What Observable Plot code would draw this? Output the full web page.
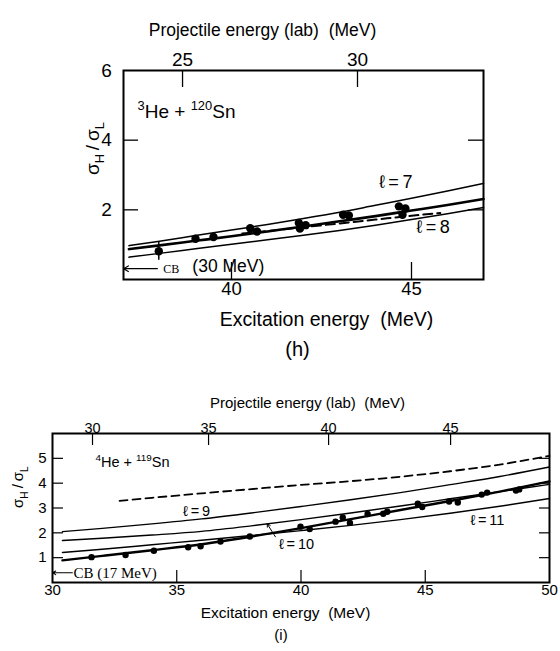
<!DOCTYPE html>
<html><head><meta charset="utf-8">
<script src="https://cdn.jsdelivr.net/npm/d3@7"></script>
<script src="https://cdn.jsdelivr.net/npm/@observablehq/plot@0.6"></script>
<style>
html,body{margin:0;padding:0;background:#fff;}
#wrap{position:relative;width:560px;height:651px;overflow:hidden;background:#fff;}
#wrap svg{position:absolute;left:0;}
</style></head><body><div id="wrap"></div>
<script>
// ================= Panel (h): 3He + 120Sn =================
const hCurveExc = [37.15, 38, 39, 40, 41, 42, 43, 44, 45, 46, 47];
const hL7      = [0.97, 1.10, 1.26, 1.42, 1.58, 1.75, 1.93, 2.13, 2.33, 2.54, 2.76];
const hFit     = [0.87, 0.98, 1.11, 1.24, 1.38, 1.52, 1.67, 1.82, 1.98, 2.14, 2.31];
const hL8      = [0.64, 0.75, 0.88, 1.01, 1.14, 1.27, 1.41, 1.56, 1.72, 1.89, 2.07];
const hDashExc = [40.3, 41, 42, 43, 44, 45, 45.8];
const hDash    = [1.32, 1.39, 1.50, 1.61, 1.72, 1.83, 1.91];
const hPtExc   = [37.98, 39.00, 39.50, 40.52, 40.71, 41.87, 41.90, 42.06, 43.10, 43.26, 44.65, 44.83, 44.75];
const hPtRatio = [0.81, 1.17, 1.22, 1.47, 1.38, 1.62, 1.46, 1.56, 1.86, 1.84, 2.10, 2.04, 1.86];
const hPtErr   = [0.26, 0, 0, 0, 0, 0.08, 0, 0, 0, 0, 0, 0, 0.12];
const hExcTicks = [40, 45];
const hYTickLabels = [2, 4, 6];
const hYTicks = [2, 4];
const hProjTicks = [25, 30];
const hProjTickExc = [38.64, 43.5];
const hCB = {exc: 37.94, ratio: 0.31, energy: "(30\u00a0MeV)"};

// ================= Panel (i): 4He + 119Sn =================
const iCurveExc = [30.4, 32, 34, 36, 38, 40, 42, 44, 46, 48, 50];
const iL9   = [2.05, 2.18, 2.36, 2.56, 2.80, 3.06, 3.33, 3.62, 3.94, 4.27, 4.65];
const iL10  = [1.69, 1.78, 1.91, 2.06, 2.28, 2.53, 2.80, 3.08, 3.37, 3.66, 3.95];
const iL11  = [1.21, 1.34, 1.52, 1.70, 1.89, 2.09, 2.30, 2.53, 2.79, 3.07, 3.38];
const iFit  = [0.89, 1.07, 1.30, 1.54, 1.85, 2.19, 2.55, 2.92, 3.28, 3.66, 4.07];
const iDashExc = [32.7, 34, 36, 38, 40, 42, 44, 46, 48, 50];
const iDash    = [3.29, 3.41, 3.59, 3.76, 3.93, 4.08, 4.26, 4.48, 4.75, 5.10];
const iPtExc   = [31.57, 32.94, 34.08, 35.46, 35.96, 36.76, 37.94, 39.98, 40.35, 41.39, 41.68, 41.97, 42.68, 43.31, 43.47, 44.70, 44.88, 45.96, 46.31, 47.27, 47.49, 48.65, 48.78];
const iPtRatio = [1.02, 1.11, 1.28, 1.42, 1.46, 1.65, 1.85, 2.25, 2.15, 2.45, 2.62, 2.40, 2.76, 2.77, 2.85, 3.17, 3.04, 3.26, 3.22, 3.54, 3.62, 3.70, 3.75];
const iExcTicks = [35, 40, 45];
const iExcTickLabels = [30, 35, 40, 45, 50];
const iYTicks = [1, 2, 3, 4, 5];
const iProjTicks = [30, 35, 40, 45];
const iProjTickExc = [31.61, 36.28, 41.11, 46.02];
const iCB = {exc: 30.8, ratio: 0.39, label: "CB (17\u00a0MeV)"};
const iL10Arrow = {x1: 38.97, y1: 1.84, x2: 38.64, y2: 2.36};

// ================= helpers =================
const FONT = "'Liberation Sans', Arial, sans-serif";
const SERIF = "'Liberation Serif', 'Times New Roman', serif";
const W = 560;
const tbl = (xs, ys) => xs.map((x, i) => ({x, y: ys[i]}));

function richText(svg) {
  d3.select(svg).selectAll("text").each(function () {
    const s = this.textContent;
    if (!/[\^_]\{/.test(s)) return;
    const g = this.parentNode;
    const fs = +(this.getAttribute("font-size") || (g && g.getAttribute("font-size")) || 12);
    const parts = s.split(/([\^_]\{[^}]*\})/);
    const sel = d3.select(this);
    sel.text(null);
    let off = 0;
    for (const p of parts) {
      if (!p) continue;
      const m = p.match(/^([\^_])\{(.*)\}$/);
      if (m) {
        const target = m[1] === "^" ? -0.42 * fs : 0.3 * fs;
        sel.append("tspan").attr("dy", target - off).attr("font-size", 0.68 * fs).text(m[2]);
        off = target;
      } else {
        sel.append("tspan").attr("dy", -off).text(p);
        off = 0;
      }
    }
  });
  return svg;
}

// ================= Panel (h) =================
function panelH() {
  const mL = 123, mR = 77, mT = 70, mB = 91, H = 370;
  const fw = W - mL - mR, fh = H - mT - mB;
  const pts = hPtExc.map((x, i) => ({x, y: hPtRatio[i], e: hPtErr[i]}));
  const proj = hProjTicks.map((p, i) => ({p, x: hProjTickExc[i]}));
  return Plot.plot({
    width: W, height: H, marginLeft: mL, marginRight: mR, marginTop: mT, marginBottom: mB,
    x: {domain: [37, 47], axis: null},
    y: {domain: [0, 6], axis: null},
    style: {fontFamily: FONT, background: "transparent", overflow: "visible", color: "black"},
    marks: [
      Plot.frame({stroke: "black", strokeWidth: 2}),
      Plot.tickX(hExcTicks, {x: d => d, insetTop: fh - 17, strokeWidth: 1.3}),
      Plot.tickX(proj, {x: "x", insetBottom: fh - 17, strokeWidth: 1.3}),
      Plot.tickY(hYTicks, {y: d => d, insetRight: fw - 15, strokeWidth: 1.3}),
      Plot.tickY(hYTicks, {y: d => d, insetLeft: fw - 15, strokeWidth: 1.3}),
      Plot.line(tbl(hCurveExc, hL7), {x: "x", y: "y", stroke: "black", strokeWidth: 1.5, curve: "monotone-x"}),
      Plot.line(tbl(hCurveExc, hL8), {x: "x", y: "y", stroke: "black", strokeWidth: 1.5, curve: "monotone-x"}),
      Plot.line(tbl(hCurveExc, hFit), {x: "x", y: "y", stroke: "black", strokeWidth: 2.6, curve: "monotone-x"}),
      Plot.line(tbl(hDashExc, hDash), {x: "x", y: "y", stroke: "black", strokeWidth: 2, strokeDasharray: "9,5", curve: "monotone-x"}),
      Plot.ruleX(pts.filter(d => d.e > 0), {x: "x", y1: d => d.y - d.e, y2: d => d.y + d.e, stroke: "black", strokeWidth: 1.5}),
      Plot.dot(pts, {x: "x", y: "y", r: 4.2, fill: "black", stroke: null}),
      Plot.arrow([hCB], {x1: "exc", y1: "ratio", x2: () => 37, y2: "ratio", stroke: "black", strokeWidth: 1.2, headLength: 7}),
      Plot.text([hCB], {x: "exc", y: "ratio", text: () => "CB", textAnchor: "start", dx: 6, fontFamily: SERIF, fontSize: 12}),
      Plot.text([hCB], {x: "exc", y: "ratio", text: "energy", textAnchor: "start", dx: 35, dy: -2, fontSize: 17.5}),
      Plot.text(["ℓ\u2009=\u20097"], {x: () => 44.56, y: () => 2.80, fontSize: 18}),
      Plot.text(["ℓ\u2009=\u20098"], {x: () => 45.6, y: () => 1.49, fontSize: 18}),
      Plot.text(["^{3}He + ^{120}Sn"], {x: () => 37.39, y: () => 4.81, textAnchor: "start", fontSize: 19}),
      // axes labels
      Plot.text(proj, {x: "x", text: d => String(d.p), frameAnchor: "top", dy: -18, fontSize: 19}),
      Plot.text(hExcTicks, {x: d => d, text: d => String(d), frameAnchor: "bottom", dy: 15, fontSize: 18.5}),
      Plot.text(hYTickLabels, {y: d => d, text: d => String(d), frameAnchor: "left", dx: -17, textAnchor: "middle", fontSize: 19}),
      Plot.text(["Projectile energy (lab)\u00a0\u00a0(MeV)"], {frameAnchor: "top", dy: -47, dx: -41, fontSize: 17.5}),
      Plot.text(["Excitation energy\u00a0\u00a0(MeV)"], {frameAnchor: "bottom", dy: 46, dx: 23, fontSize: 19.5}),
      Plot.text(["(h)"], {frameAnchor: "bottom", dy: 76, dx: -6, fontSize: 20}),
      Plot.text(["σ_{H}\u2009/\u2009σ_{L}"], {frameAnchor: "left", dx: -31, rotate: -90, fontSize: 19})
    ]
  });
}

// ================= Panel (i) =================
function panelI() {
  const mL = 52, mR = 11, mT = 63, mB = 69, H = 281;
  const fw = W - mL - mR, fh = H - mT - mB;
  const pts = iPtExc.map((x, i) => ({x, y: iPtRatio[i]}));
  const proj = iProjTicks.map((p, i) => ({p, x: iProjTickExc[i]}));
  return Plot.plot({
    width: W, height: H, marginLeft: mL, marginRight: mR, marginTop: mT, marginBottom: mB,
    x: {domain: [30, 50], axis: null},
    y: {domain: [0, 6], axis: null},
    style: {fontFamily: FONT, background: "transparent", overflow: "visible", color: "black"},
    marks: [
      Plot.frame({stroke: "black", strokeWidth: 2}),
      Plot.tickX(iExcTicks, {x: d => d, insetTop: fh - 12, strokeWidth: 1.2}),
      Plot.tickX(proj, {x: "x", insetBottom: fh - 12, strokeWidth: 1.2}),
      Plot.tickY(iYTicks, {y: d => d, insetRight: fw - 11, strokeWidth: 1.2}),
      Plot.tickY(iYTicks, {y: d => d, insetLeft: fw - 10, strokeWidth: 1.2}),
      Plot.line(tbl(iCurveExc, iL9), {x: "x", y: "y", stroke: "black", strokeWidth: 1.4, curve: "monotone-x"}),
      Plot.line(tbl(iCurveExc, iL10), {x: "x", y: "y", stroke: "black", strokeWidth: 1.4, curve: "monotone-x"}),
      Plot.line(tbl(iCurveExc, iL11), {x: "x", y: "y", stroke: "black", strokeWidth: 1.4, curve: "monotone-x"}),
      Plot.line(tbl(iCurveExc, iFit), {x: "x", y: "y", stroke: "black", strokeWidth: 2.4, curve: "monotone-x"}),
      Plot.line(tbl(iDashExc, iDash), {x: "x", y: "y", stroke: "black", strokeWidth: 1.8, strokeDasharray: "8,5", curve: "monotone-x"}),
      Plot.dot(pts, {x: "x", y: "y", r: 3.2, fill: "black", stroke: null}),
      Plot.arrow([iL10Arrow], {x1: "x1", y1: "y1", x2: "x2", y2: "y2", stroke: "black", strokeWidth: 1, headLength: 5}),
      Plot.arrow([iCB], {x1: "exc", y1: "ratio", x2: () => 30, y2: "ratio", stroke: "black", strokeWidth: 1.1, headLength: 5}),
      Plot.text([iCB], {x: "exc", y: "ratio", text: "label", textAnchor: "start", dx: 1, fontFamily: SERIF, fontSize: 15}),
      Plot.text(["ℓ\u2009=\u20099"], {x: () => 35.8, y: () => 2.87, fontSize: 14.5}),
      Plot.text(["ℓ\u2009=\u200910"], {x: () => 39.82, y: () => 1.52, fontSize: 14.5}),
      Plot.text(["ℓ\u2009=\u200911"], {x: () => 47.5, y: () => 2.52, fontSize: 14.5}),
      Plot.text(["^{4}He + ^{119}Sn"], {x: () => 31.73, y: () => 4.84, textAnchor: "start", fontSize: 14.5}),
      // axes labels
      Plot.text(proj, {x: "x", text: d => String(d.p), frameAnchor: "top", dy: -11, fontSize: 14.5}),
      Plot.text(iExcTickLabels, {x: d => d, text: d => String(d), frameAnchor: "bottom", dy: 12, fontSize: 15}),
      Plot.text(iYTicks, {y: d => d, text: d => String(d), frameAnchor: "left", dx: -10, textAnchor: "middle", fontSize: 15}),
      Plot.text(["Projectile energy (lab)\u00a0\u00a0(MeV)"], {frameAnchor: "top", dy: -36, dx: 6.5, fontSize: 15}),
      Plot.text(["Excitation energy\u00a0\u00a0(MeV)"], {frameAnchor: "bottom", dy: 35, dx: -15.5, fontSize: 15.5}),
      Plot.text(["(i)"], {frameAnchor: "bottom", dy: 57, dx: -20, fontSize: 15}),
      Plot.text(["σ_{H}\u2009/\u2009σ_{L}"], {frameAnchor: "left", dx: -34, rotate: -90, fontSize: 15})
    ]
  });
}

const wrap = document.getElementById("wrap");
const svgH = richText(panelH());
svgH.style.top = "0px";
wrap.appendChild(svgH);
const svgI = richText(panelI());
svgI.style.top = "370px";
wrap.appendChild(svgI);
</script>
</body></html>
